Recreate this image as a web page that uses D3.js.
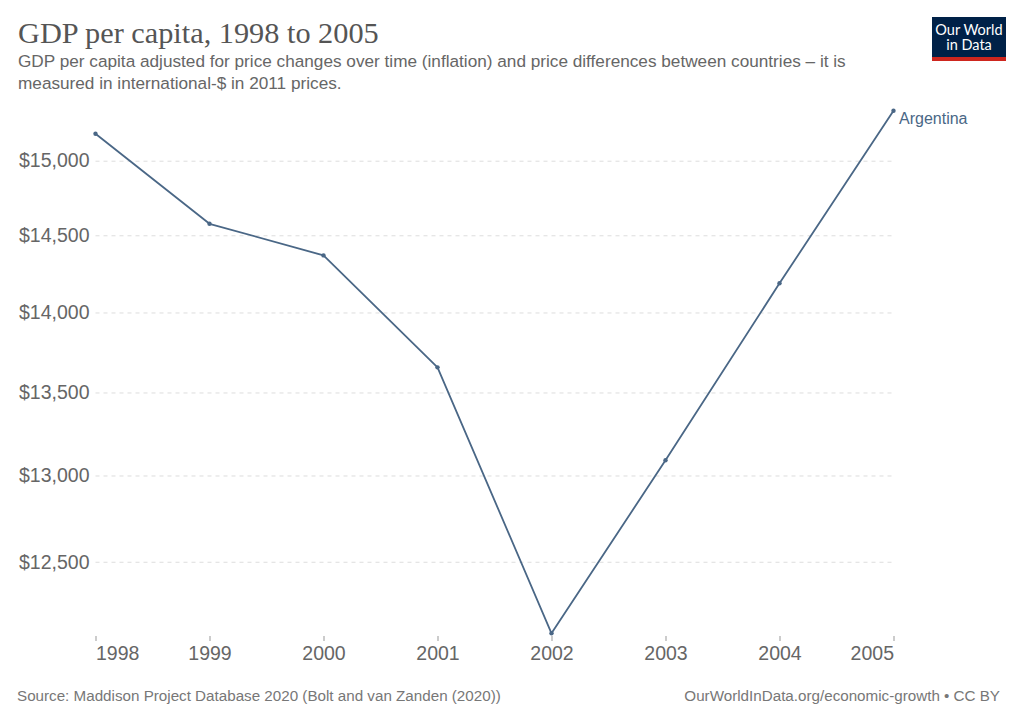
<!DOCTYPE html>
<html>
<head>
<meta charset="utf-8">
<script src="https://cdn.jsdelivr.net/npm/d3@7/dist/d3.min.js"></script>
<style>
  html, body { margin: 0; padding: 0; background: #fff; }
  svg { display: block; }
</style>
</head>
<body>
<svg id="chart" width="1024" height="724"></svg>
<script>
// ---- data ----
const years = [1998, 1999, 2000, 2001, 2002, 2003, 2004, 2005];
const gdpArgentina = [15185, 14576, 14368, 13655, 12100, 13090, 14187, 15345];
const yTickValues = [12500, 13000, 13500, 14000, 14500, 15000];
const xTickValues = [1998, 1999, 2000, 2001, 2002, 2003, 2004, 2005];
const seriesName = "Argentina";

const titleText = "GDP per capita, 1998 to 2005";
const subtitleLines = [
  "GDP per capita adjusted for price changes over time (inflation) and price differences between countries \u2013 it is",
  "measured in international-$ in 2011 prices."
];
const sourceText = "Source: Maddison Project Database 2020 (Bolt and van Zanden (2020))";
const creditText = "OurWorldInData.org/economic-growth \u2022 CC BY";

// ---- drawing ----
const svg = d3.select("#chart");
const sans = "'Liberation Sans', Arial, Helvetica, sans-serif";
const lineColor = "#4a6786";

const plotLeft = 95.5, plotRight = 893.5, plotTop = 110.7, plotBottom = 633.3;

const x = d3.scaleLinear().domain([d3.min(years), d3.max(years)]).range([plotLeft, plotRight]);
const y = d3.scaleLog().domain([d3.min(gdpArgentina), d3.max(gdpArgentina)]).range([plotBottom, plotTop]);

// title & subtitle
svg.append("text").attr("x", 18).attr("y", 43)
  .attr("font-family", "'Liberation Serif', 'Times New Roman', serif")
  .attr("font-size", 30.3).attr("fill", "#555").text(titleText);

svg.selectAll("text.sub").data(subtitleLines).join("text").attr("class", "sub")
  .attr("x", 18).attr("y", (d, i) => 67 + i * 21.5)
  .attr("font-family", sans).attr("font-size", 17.2).attr("fill", "#666")
  .text(d => d);

// logo
const logo = svg.append("g");
logo.append("rect").attr("x", 932).attr("y", 17).attr("width", 74).attr("height", 44).attr("fill", "#002147");
logo.append("rect").attr("x", 932).attr("y", 57).attr("width", 74).attr("height", 4).attr("fill", "#ce261e");
logo.selectAll("text").data(["Our World", "in Data"]).join("text")
  .attr("x", 969).attr("y", (d, i) => 35 + i * 15)
  .attr("text-anchor", "middle").attr("font-family", "Lato, 'Liberation Sans', sans-serif")
  .attr("font-size", 14.5).attr("fill", "#fff").text(d => d);

// y axis + gridlines
const yAxis = d3.axisLeft(y).tickValues(yTickValues)
  .tickFormat(d => "$" + d3.format(",")(d))
  .tickSize(-(plotRight - plotLeft)).tickPadding(6);
const gy = svg.append("g").attr("transform", `translate(${plotLeft},0)`).call(yAxis);
gy.select(".domain").remove();
gy.selectAll(".tick line").attr("stroke", "#ddd").attr("stroke-dasharray", "4,4").attr("stroke-width", 1);
gy.selectAll(".tick text").attr("font-family", sans).attr("font-size", 19.5).attr("fill", "#666");

// x axis
const xAxis = d3.axisBottom(x).tickValues(xTickValues).tickFormat(d3.format("d"))
  .tickSize(5).tickPadding(5);
const gx = svg.append("g").attr("transform", `translate(0,${plotBottom + 2.7})`).call(xAxis);
gx.select(".domain").remove();
gx.selectAll(".tick line").attr("stroke", "#999");
gx.selectAll(".tick text").attr("font-family", sans).attr("font-size", 19.5).attr("fill", "#666")
  .attr("text-anchor", (d, i, n) => i === 0 ? "start" : (i === n.length - 1 ? "end" : "middle"));

// line
const pts = years.map((yr, i) => ({ year: yr, value: gdpArgentina[i] }));
const line = d3.line().x(d => x(d.year)).y(d => y(d.value));
svg.append("path").datum(pts).attr("d", line)
  .attr("fill", "none").attr("stroke", lineColor).attr("stroke-width", 1.8)
  .attr("stroke-linejoin", "round");
svg.selectAll("circle.pt").data(pts).join("circle").attr("class", "pt")
  .attr("cx", d => x(d.year)).attr("cy", d => y(d.value)).attr("r", 2.2)
  .attr("fill", lineColor);

// series label
const last = pts[pts.length - 1];
svg.append("text").attr("x", x(last.year) + 5.5).attr("y", y(last.value) + 13.5)
  .attr("font-family", sans).attr("font-size", 16).attr("fill", lineColor).text(seriesName);

// footer
svg.append("text").attr("x", 17).attr("y", 701)
  .attr("font-family", sans).attr("font-size", 15.2).attr("fill", "#777").text(sourceText);
svg.append("text").attr("x", 1000).attr("y", 701).attr("text-anchor", "end")
  .attr("font-family", sans).attr("font-size", 15.2).attr("fill", "#777").text(creditText);
</script>
</body>
</html>
